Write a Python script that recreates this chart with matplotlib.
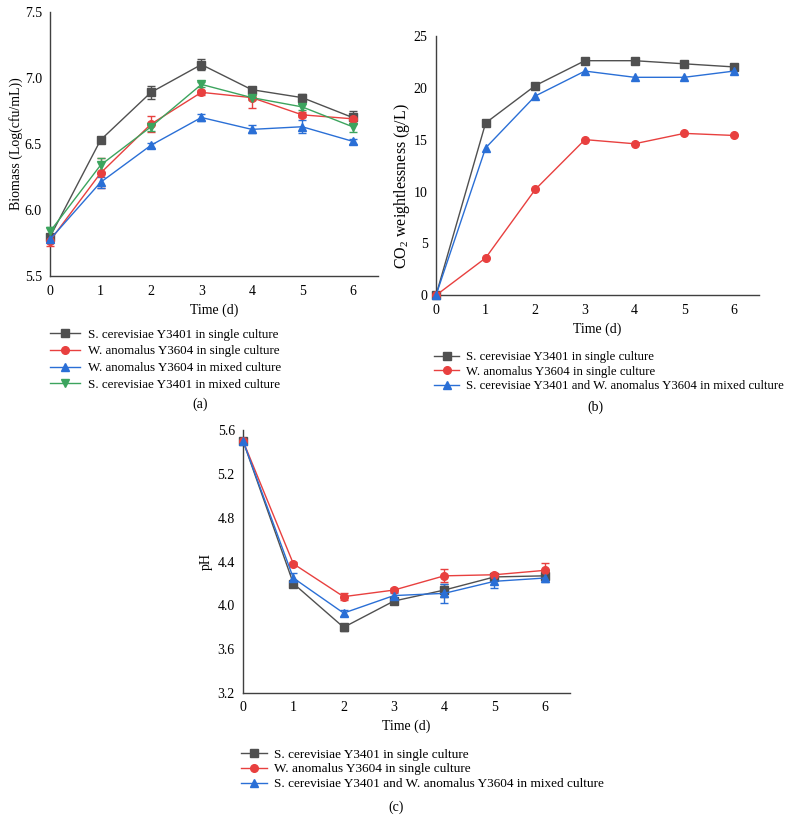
import matplotlib
matplotlib.use("Agg")
import matplotlib.pyplot as plt

plt.rcParams['font.family'] = ['Liberation Serif', 'DejaVu Serif']
plt.rcParams['mathtext.fontset'] = 'custom'
plt.rcParams['mathtext.rm'] = 'Liberation Serif'

days = [0, 1, 2, 3, 4, 5, 6]

# (a) biomass, Log(cfu/mL)
bio_sc_single = [5.80, 6.53, 6.89, 7.10, 6.91, 6.85, 6.70]
bio_sc_single_err = [0.02, 0.01, 0.05, 0.04, 0.02, 0.03, 0.05]
bio_wa_single = [5.77, 6.28, 6.65, 6.89, 6.85, 6.72, 6.69]
bio_wa_single_err = [0.04, 0.11, 0.06, 0.02, 0.08, 0.02, 0.03]
bio_wa_mixed = [5.78, 6.21, 6.49, 6.70, 6.61, 6.63, 6.52]
bio_wa_mixed_err = [0.02, 0.04, 0.02, 0.03, 0.03, 0.05, 0.02]
bio_sc_mixed = [5.84, 6.34, 6.63, 6.95, 6.85, 6.78, 6.63]
bio_sc_mixed_err = [0.03, 0.05, 0.03, 0.02, 0.02, 0.02, 0.04]

# (b) CO2 weightlessness, g/L
co2_sc_single = [0, 16.6, 20.2, 22.6, 22.6, 22.3, 22.0]
co2_wa_single = [0, 3.6, 10.2, 15.0, 14.6, 15.6, 15.4]
co2_mixed = [0, 14.2, 19.2, 21.6, 21.0, 21.0, 21.6]

# (c) pH
ph_sc_single = [5.50, 4.20, 3.80, 4.04, 4.14, 4.26, 4.27]
ph_sc_single_err = [0.01, 0.02, 0.03, 0.02, 0.06, 0.02, 0.04]
ph_wa_single = [5.50, 4.38, 4.08, 4.14, 4.27, 4.28, 4.32]
ph_wa_single_err = [0.01, 0.02, 0.03, 0.02, 0.06, 0.02, 0.07]
ph_mixed = [5.50, 4.25, 3.93, 4.09, 4.11, 4.22, 4.25]
ph_mixed_err = [0.01, 0.05, 0.03, 0.02, 0.09, 0.06, 0.04]

lbl_sc_single = 'S. cerevisiae Y3401 in single culture'
lbl_wa_single = 'W. anomalus Y3604 in single culture'
lbl_wa_mixed = 'W. anomalus Y3604 in mixed culture'
lbl_sc_mixed = 'S. cerevisiae Y3401 in mixed culture'
lbl_mixed = 'S. cerevisiae Y3401 and W. anomalus Y3604 in mixed culture'

GRAY = '#505050'
RED = '#e8403f'
BLUE = '#2a6fd6'
GREEN = '#3ca45e'

fig = plt.figure(figsize=(7.97, 8.32), dpi=100)


def style_axes(ax, xmax=6.5):
    for s in ['top', 'right']:
        ax.spines[s].set_visible(False)
    for s in ['left', 'bottom']:
        ax.spines[s].set_color('#404040')
        ax.spines[s].set_linewidth(1.0)
    ax.set_xlim(0, xmax)
    ax.set_xticks(days)
    ax.tick_params(length=0, labelsize=10, pad=6)
    ax.set_xlabel('Time (d)', fontsize=10, labelpad=4)


def series(ax, y, err, color, marker, label, ms=5.5):
    # line + markers carry the legend entry, error bars drawn separately
    ax.plot(days, y, color=color, marker=marker, ms=ms, lw=1.0, label=label,
            clip_on=False, zorder=4)
    if err is not None:
        ax.errorbar(days, y, yerr=err, fmt='none', ecolor=color, elinewidth=1.0,
                    capsize=3, capthick=1.0, clip_on=False, zorder=3)


# ---- (a) Biomass
ax1 = fig.add_axes([0.063, 0.668, 0.411, 0.318])
series(ax1, bio_sc_single, bio_sc_single_err, GRAY, 's', lbl_sc_single)
series(ax1, bio_wa_single, bio_wa_single_err, RED, 'o', lbl_wa_single)
series(ax1, bio_wa_mixed, bio_wa_mixed_err, BLUE, '^', lbl_wa_mixed)
series(ax1, bio_sc_mixed, bio_sc_mixed_err, GREEN, 'v', lbl_sc_mixed)
ax1.set_ylim(5.5, 7.5)
ax1.set_yticks([5.5, 6.0, 6.5, 7.0, 7.5])
ax1.set_yticklabels(['5.5', '6.0', '6.5', '7.0', '7.5'])
style_axes(ax1)
ax1.set_ylabel('Biomass (Log(cfu/mL))', fontsize=10, labelpad=1)
ax1.legend(loc='upper left', bbox_to_anchor=(0.063, 0.605), bbox_transform=fig.transFigure,
           frameon=False, fontsize=9.4, handlelength=2.3, handletextpad=0.6,
           labelspacing=0.35, borderpad=0, borderaxespad=0)
fig.text(0.251, 0.514, '(a)', ha='center', va='center', fontsize=10)

# ---- (b) CO2
ax2 = fig.add_axes([0.547, 0.645, 0.405, 0.312])
series(ax2, co2_sc_single, None, GRAY, 's', lbl_sc_single)
series(ax2, co2_wa_single, None, RED, 'o', lbl_wa_single)
series(ax2, co2_mixed, None, BLUE, '^', lbl_mixed)
ax2.set_ylim(0, 25)
ax2.set_yticks([0, 5, 10, 15, 20, 25])
style_axes(ax2)
ax2.set_ylabel('CO$_2$ weightlessness (g/L)', fontsize=11.5, labelpad=0)
ax2.yaxis.set_label_coords(-0.075, 0.42)
ax2.legend(loc='upper left', bbox_to_anchor=(0.545, 0.578), bbox_transform=fig.transFigure,
           frameon=False, fontsize=9.2, handlelength=1.9, handletextpad=0.6,
           labelspacing=0.2, borderpad=0, borderaxespad=0)
fig.text(0.747, 0.511, '(b)', ha='center', va='center', fontsize=10)

# ---- (c) pH
ax3 = fig.add_axes([0.305, 0.167, 0.41, 0.316])
series(ax3, ph_sc_single, ph_sc_single_err, GRAY, 's', lbl_sc_single)
series(ax3, ph_wa_single, ph_wa_single_err, RED, 'o', lbl_wa_single)
series(ax3, ph_mixed, ph_mixed_err, BLUE, '^', lbl_mixed)
ax3.set_ylim(3.2, 5.6)
ax3.set_yticks([3.2, 3.6, 4.0, 4.4, 4.8, 5.2, 5.6])
ax3.set_yticklabels(['3.2', '3.6', '4.0', '4.4', '4.8', '5.2', '5.6'])
style_axes(ax3)
ax3.set_ylabel('pH', fontsize=10, labelpad=3)
ax3.legend(loc='upper left', bbox_to_anchor=(0.303, 0.1006), bbox_transform=fig.transFigure,
           frameon=False, fontsize=9.5, handlelength=1.9, handletextpad=0.55,
           labelspacing=0.2, borderpad=0, borderaxespad=0)
fig.text(0.497, 0.030, '(c)', ha='center', va='center', fontsize=10)

fig.savefig('out.png', dpi=100)
